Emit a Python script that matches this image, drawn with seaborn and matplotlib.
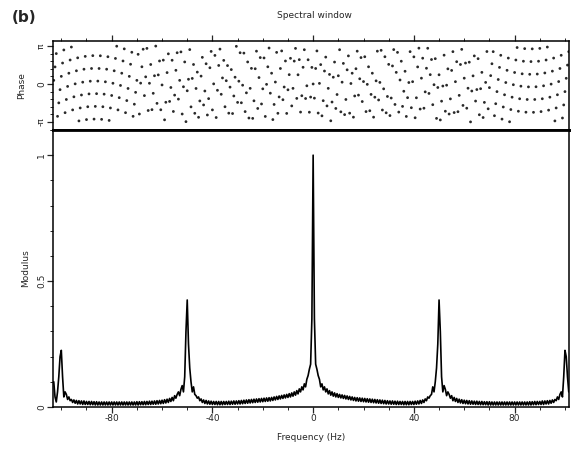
import numpy as np
import pandas as pd
import matplotlib
matplotlib.use("Agg")
import matplotlib.pyplot as plt
from matplotlib.ticker import MultipleLocator, FixedLocator
import seaborn as sns

# Frequency grid of the spectral window (Hz), 0.5 Hz spacing
FREQ_START, FREQ_STOP, FREQ_STEP = -103.0, 101.5, 0.5

# Modulus of the spectral window, from -103 Hz up to 0 Hz
modulus_neg = [
    0.10, 0.04, 0.02, 0.06, 0.12, 0.20, 0.225, 0.12, 0.04, 0.06,
    0.05, 0.03, 0.04, 0.025, 0.03, 0.018, 0.028, 0.015, 0.026, 0.012,
    0.025, 0.012, 0.024, 0.010, 0.024, 0.010, 0.022, 0.010, 0.022, 0.009,
    0.022, 0.009, 0.021, 0.008, 0.021, 0.008, 0.020, 0.008, 0.020, 0.008,
    0.020, 0.008, 0.020, 0.008, 0.020, 0.008, 0.020, 0.008, 0.020, 0.008,
    0.020, 0.008, 0.020, 0.008, 0.020, 0.008, 0.020, 0.008, 0.020, 0.008,
    0.020, 0.008, 0.020, 0.008, 0.020, 0.008, 0.021, 0.008, 0.021, 0.009,
    0.021, 0.009, 0.022, 0.009, 0.022, 0.010, 0.023, 0.010, 0.023, 0.011,
    0.024, 0.011, 0.025, 0.012, 0.026, 0.013, 0.027, 0.014, 0.029, 0.016,
    0.031, 0.018, 0.034, 0.022, 0.038, 0.025, 0.045, 0.035, 0.05, 0.06,
    0.045, 0.07, 0.085, 0.06, 0.12, 0.30, 0.425, 0.25, 0.155, 0.10,
    0.06, 0.08, 0.05, 0.045, 0.035, 0.04, 0.025, 0.032, 0.018, 0.028,
    0.014, 0.026, 0.012, 0.024, 0.011, 0.023, 0.010, 0.022, 0.010, 0.022,
    0.009, 0.022, 0.009, 0.022, 0.009, 0.022, 0.010, 0.022, 0.010, 0.023,
    0.010, 0.023, 0.011, 0.024, 0.011, 0.024, 0.012, 0.025, 0.012, 0.026,
    0.013, 0.027, 0.014, 0.028, 0.015, 0.029, 0.016, 0.030, 0.017, 0.031,
    0.018, 0.032, 0.019, 0.033, 0.020, 0.034, 0.021, 0.035, 0.022, 0.036,
    0.023, 0.037, 0.024, 0.038, 0.026, 0.040, 0.028, 0.042, 0.030, 0.044,
    0.032, 0.046, 0.034, 0.048, 0.036, 0.050, 0.038, 0.053, 0.040, 0.056,
    0.043, 0.060, 0.047, 0.065, 0.052, 0.072, 0.060, 0.080, 0.068, 0.092,
    0.080, 0.110, 0.125, 0.150, 0.170, 0.35,
    1.0,
]

# Modulus from 0.5 Hz up to 101.5 Hz
modulus_pos = [
    0.35, 0.170, 0.150, 0.125, 0.110, 0.080,
    0.092, 0.068, 0.080, 0.060, 0.072, 0.052, 0.065, 0.047, 0.060, 0.043,
    0.056, 0.040, 0.053, 0.038, 0.050, 0.036, 0.048, 0.034, 0.046, 0.032,
    0.044, 0.030, 0.042, 0.028, 0.040, 0.026, 0.038, 0.024, 0.037, 0.023,
    0.036, 0.022, 0.035, 0.021, 0.034, 0.020, 0.033, 0.019, 0.032, 0.018,
    0.031, 0.017, 0.030, 0.016, 0.029, 0.015, 0.028, 0.014, 0.027, 0.013,
    0.026, 0.012, 0.025, 0.012, 0.024, 0.011, 0.024, 0.011, 0.023, 0.010,
    0.023, 0.010, 0.022, 0.010, 0.022, 0.009, 0.022, 0.009, 0.022, 0.009,
    0.022, 0.010, 0.022, 0.010, 0.023, 0.011, 0.024, 0.012, 0.026, 0.014,
    0.028, 0.018, 0.032, 0.025, 0.04, 0.035, 0.045, 0.05, 0.08, 0.06,
    0.10, 0.155, 0.25, 0.425, 0.30, 0.12, 0.06, 0.085, 0.07, 0.045,
    0.06, 0.05, 0.035, 0.045, 0.025, 0.038, 0.022, 0.034, 0.018, 0.031,
    0.016, 0.029, 0.014, 0.027, 0.013, 0.026, 0.012, 0.025, 0.011, 0.024,
    0.011, 0.023, 0.010, 0.023, 0.010, 0.022, 0.009, 0.022, 0.009, 0.021,
    0.009, 0.021, 0.008, 0.021, 0.008, 0.020, 0.008, 0.020, 0.008, 0.020,
    0.008, 0.020, 0.008, 0.020, 0.008, 0.020, 0.008, 0.020, 0.008, 0.020,
    0.008, 0.020, 0.008, 0.020, 0.008, 0.020, 0.008, 0.020, 0.008, 0.020,
    0.008, 0.020, 0.008, 0.020, 0.008, 0.021, 0.008, 0.021, 0.009, 0.022,
    0.009, 0.022, 0.010, 0.022, 0.010, 0.024, 0.010, 0.024, 0.012, 0.025,
    0.012, 0.026, 0.015, 0.028, 0.018, 0.03, 0.025, 0.04, 0.03, 0.05,
    0.06, 0.04, 0.12, 0.225, 0.20, 0.12, 0.06,
]

# Phase of the spectral window (rad), from -103 Hz up to 0 Hz
phase_neg = [
    0.30, 1.41, 2.51, -2.67, -1.56, -0.47, 0.63, 1.73, 2.81, -2.37,
    -1.28, -0.20, 0.89, 1.98, 3.05, -2.14, -1.06, 0.01, 1.09, 2.16,
    -3.05, -1.98, -0.91, 0.15, 1.22, 2.28, -2.94, -1.88, -0.82, 0.23,
    1.28, 2.34, -2.90, -1.85, -0.80, 0.24, 1.28, 2.33, -2.92, -1.88,
    -0.84, 0.18, 1.22, 2.25, -3.01, -1.98, -0.95, 0.06, 1.09, 2.11,
    3.12, -2.14, -1.13, -0.12, 0.89, 1.90, 2.90, -2.37, -1.37, -0.37,
    0.63, 1.63, 2.62, -2.67, -1.67, -0.69, 0.30,
    2.45, -2.48, 0.07, 1.42, 2.87, -0.96, 0.59, 2.94, -2.19, 0.06,
    1.61, -2.12, -0.77, 0.68, 3.13, -1.60, 0.75, 1.90, -2.13, -0.08,
    1.97, -2.96, -1.51, 0.94, 2.49, -1.44, -0.29, 1.96, -2.27, -0.92,
    1.13, 2.58, -1.25, 0.30, 2.65, -2.48, -0.23, 1.82, -3.11, -0.56,
    0.39, 2.84, -1.89, 0.46, 1.61, -2.42, -0.37, 0.98, -2.75, -1.40,
    0.65, 2.20, -1.73, -0.58, 1.67, -2.56, -1.21, 1.34, 2.69, -2.14,
    0.01, 2.36, -2.77, -0.52, 1.53, 2.88, -0.85, 0.50, 1.95, -1.88,
    0.27, 1.52, -2.41, -0.26, 1.19, -2.44, -0.99, 0.56, 3.11, -1.52,
    0.23, 2.58, -1.55, -0.10, 2.55, -2.28, -0.73, 1.82, -2.81, -0.36,
    1.29, -2.84, -1.39, 1.26, 2.71, -2.02, 0.53, 2.18, -1.65, -0.40,
    2.15, -2.68, -0.03, 1.42, 2.97, -0.76, 0.89, -2.94, -1.69,
    0.16, 2.61, -2.42, -1.07, 1.28, 2.73, -1.30, -0.25, 1.90, -2.43,
    -0.48, 0.77, 2.12, -1.81, -0.36, 1.89, 2.94, -1.19, 0.76, 2.01,
    -2.32, -0.97, 1.38, 2.83, -1.20, -0.15, 2.00, -2.33, -1.08, 1.37,
    0.0,
]

# Phase from 0.5 Hz up to 101.5 Hz
phase_pos = [
    -1.17, 1.28, 2.73, -2.40, 0.05, 1.60, -2.63, -1.38, 1.07, 2.22,
    -1.81, -0.36, 0.79, -3.04, -1.49, 0.56, 1.81, -2.02, -0.87, 0.68,
    2.83, -2.30, 0.15, 1.70, -2.53, -1.28, 1.17, 2.32, -2.41, 0.04,
    0.89, -2.74, -0.99, 1.26, 2.71, -0.92, 0.43, 2.18, -1.45, 0.20,
    2.25, -2.28, -0.03, 1.42, -2.21, -0.86, 0.89, -2.74, -1.09, 0.26,
    2.71, -1.32, 0.13, 2.78, -2.15, -0.40, 2.25, -2.38, -1.03, 1.62,
    -2.61, -1.16, 1.49, 2.84, -1.69, 0.96, 2.61, -2.32, 0.33,
    1.88, -1.85, -0.60, 1.05, -2.68, -1.13, 0.12, 2.67, -1.96, 0.19,
    2.24, -2.79, -1.14, 1.41, 2.96, -2.07, 0.48, 2.13, -2.00, -0.65,
    1.30, 2.95, -0.78, 0.77, 2.02, -1.71, -0.06, 2.09, -2.84, -0.29,
    0.76, -2.97, -1.42, -0.17, 2.38, -2.25, -0.10, 1.25, -2.48, -1.23,
    1.12, 2.67, -2.36, 0.19, 1.84, -2.29, -0.94, 1.61, 2.86, -1.77,
    0.48, 1.73, -2.00, -0.35, 1.80, -3.13, -0.58, 0.67, 2.32, -1.41,
    -0.46, 2.09, -2.54, -0.39, 0.96, -2.77, -1.52, 0.13, 2.68, -2.05,
    -0.30, 0.69, 1.67, 2.67, -2.62, -1.63, -0.63, 0.37, 1.37, 2.37,
    -2.90, -1.90, -0.89, 0.12, 1.13, 2.14, -3.12, -2.11, -1.09, -0.06,
    0.95, 1.98, 3.01, -2.25, -1.22, -0.18, 0.84, 1.88, 2.92, -2.33,
    -1.28, -0.24, 0.80, 1.85, 2.90, -2.34, -1.28, -0.23, 0.82, 1.88,
    2.94, -2.28, -1.22, -0.15, 0.91, 1.98, 3.05, -2.16, -1.09, -0.01,
    1.06, 2.14, -3.05, -1.98, -0.89, 0.20, 1.28, 2.37, -2.81, -1.73,
    -0.63, 0.47, 1.56, 2.67,
]

freq_ticks = [-80, -40, 0, 40, 80]
freq_tick_labels = ["-80", "-40", "0", "40", "80"]
phase_ticks = [-np.pi, 0.0, np.pi]
phase_tick_labels = ["-π", "0", "π"]
modulus_ticks = [0.0, 0.5, 1.0]
modulus_tick_labels = ["0", "0.5", "1"]

freq = np.arange(FREQ_START, FREQ_STOP + FREQ_STEP / 2, FREQ_STEP)
df = pd.DataFrame({
    "freq": freq,
    "modulus": modulus_neg + modulus_pos,
    "phase": phase_neg + phase_pos,
})

sns.set_theme(style="ticks")
plt.rcParams["font.family"] = ["DejaVu Sans"]
plt.rcParams["axes.unicode_minus"] = False

W, H = 571, 449
fig = plt.figure(figsize=(W / 100, H / 100), dpi=100)

def frac(x0, y0, x1, y1):
    return [x0 / W, 1 - y1 / H, (x1 - x0) / W, (y1 - y0) / H]

ax_ph = fig.add_axes(frac(53, 41, 569, 130))
ax_mod = fig.add_axes(frac(53, 130, 569, 407))

xlim = (-103.3, 101.6)
tick_fs = 6.5

# Phase panel: dots
sns.scatterplot(data=df, x="freq", y="phase", ax=ax_ph, s=4, color="#2a2a2a",
                edgecolor="none", linewidth=0, legend=False)
ax_ph.set_xlim(*xlim)
ax_ph.set_ylim(-3.80, 3.55)
ax_ph.set_xlabel("")
ax_ph.set_ylabel("Phase", fontsize=6.5, labelpad=8)
ax_ph.yaxis.set_major_locator(FixedLocator(phase_ticks))
ax_ph.set_yticklabels(phase_tick_labels, rotation=90, va="center", fontsize=tick_fs)
ax_ph.yaxis.set_minor_locator(MultipleLocator(np.pi / 5))
ax_ph.xaxis.tick_top()
ax_ph.xaxis.set_major_locator(FixedLocator(freq_ticks))
ax_ph.xaxis.set_minor_locator(MultipleLocator(10))
ax_ph.set_xticklabels([])
ax_ph.tick_params(axis="both", which="major", direction="out", length=4, width=0.9, pad=1)
ax_ph.tick_params(axis="both", which="minor", direction="out", length=2, width=0.7)

# Modulus panel: line
sns.lineplot(data=df, x="freq", y="modulus", ax=ax_mod, color="black",
             linewidth=1.2, estimator=None, sort=False)
ax_mod.set_xlim(*xlim)
ax_mod.set_ylim(0, 1.1)
ax_mod.set_xlabel("Frequency (Hz)", fontsize=6.5, labelpad=7)
ax_mod.set_ylabel("Modulus", fontsize=6.5, labelpad=5)
ax_mod.xaxis.set_major_locator(FixedLocator(freq_ticks))
ax_mod.set_xticklabels(freq_tick_labels, fontsize=tick_fs)
ax_mod.xaxis.set_minor_locator(MultipleLocator(10))
ax_mod.yaxis.set_major_locator(FixedLocator(modulus_ticks))
ax_mod.set_yticklabels(modulus_tick_labels, rotation=90, va="center", fontsize=tick_fs)
ax_mod.yaxis.set_minor_locator(MultipleLocator(0.1))
ax_mod.tick_params(axis="both", which="major", direction="out", length=4, width=0.9, pad=1)
ax_mod.tick_params(axis="both", which="minor", direction="out", length=2, width=0.7)

for ax in (ax_ph, ax_mod):
    for side in ("left", "right", "top", "bottom"):
        ax.spines[side].set_visible(True)
        ax.spines[side].set_linewidth(1.1)
        ax.spines[side].set_color("black")
ax_ph.spines["bottom"].set_linewidth(2.0)
ax_mod.spines["top"].set_linewidth(2.0)

fig.text(12 / W, 1 - 17 / H, "(b)", fontsize=11, fontweight="bold", va="center", ha="left")
fig.text(314 / W, 1 - 16 / H, "Spectral window", fontsize=6.5, va="center", ha="center")

fig.savefig("out.png", dpi=100)
